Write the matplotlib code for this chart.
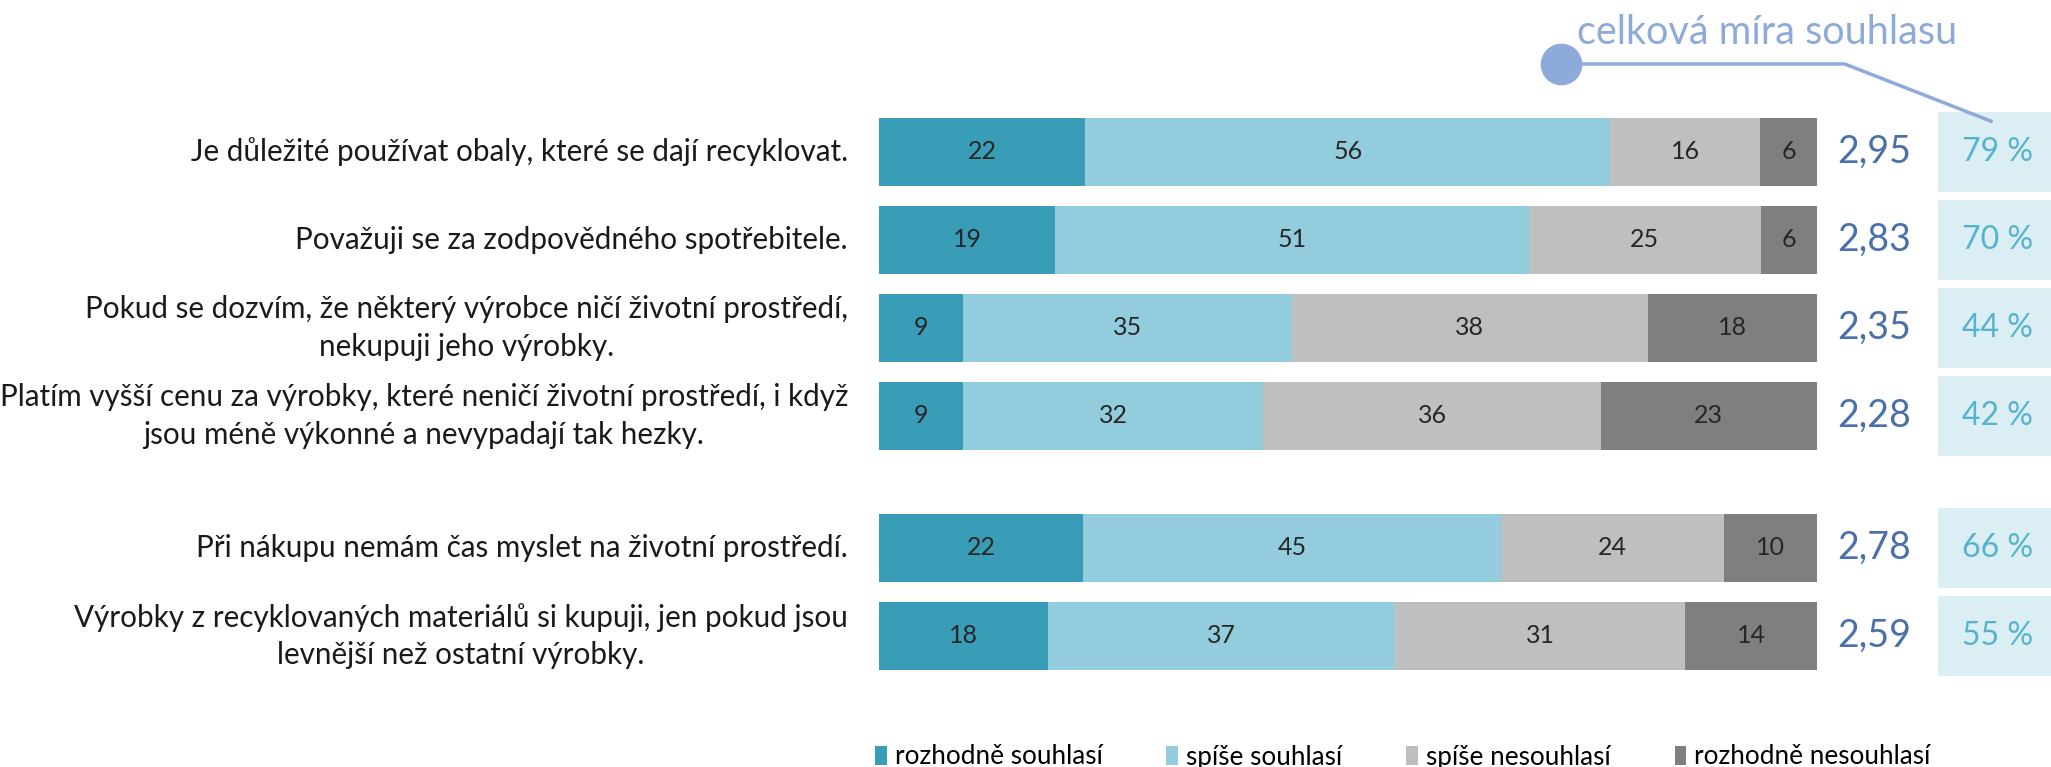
import matplotlib.pyplot as plt
import numpy as np

# Survey statements, top to bottom
statements = [
    "Je důležité používat obaly, které se dají recyklovat.",
    "Považuji se za zodpovědného spotřebitele.",
    "Pokud se dozvím, že některý výrobce ničí životní prostředí,\nnekupuji jeho výrobky.",
    "Platím vyšší cenu za výrobky, které neničí životní prostředí, i když\njsou méně výkonné a nevypadají tak hezky.",
    "Při nákupu nemám čas myslet na životní prostředí.",
    "Výrobky z recyklovaných materiálů si kupuji, jen pokud jsou\nlevnější než ostatní výrobky.",
]
positions = [0, 1, 2, 3, 4.5, 5.5]  # gap before the last two statements

categories = ["rozhodně souhlasí", "spíše souhlasí", "spíše nesouhlasí", "rozhodně nesouhlasí"]
colors = ["#3a9db8", "#93cddd", "#bfbfbf", "#7f7f7f"]

strongly_agree = [22, 19, 9, 9, 22, 18]
agree = [56, 51, 35, 32, 45, 37]
disagree = [16, 25, 38, 36, 24, 31]
strongly_disagree = [6, 6, 18, 23, 10, 14]

means = [2.95, 2.83, 2.35, 2.28, 2.78, 2.59]
total_agree = [79, 70, 44, 42, 66, 55]

plt.rcParams["font.family"] = "Lato"

# Plot setup
plt.figure(figsize=(20.51, 7.67), dpi=100)
plt.axes([879 / 2051, 0, 1 - 879 / 2051, 1])

# 100 % stacked bars
values = np.array([strongly_agree, agree, disagree, strongly_disagree], dtype=float)
shares = values / values.sum(axis=0) * 100
left = np.zeros(len(statements))
for row, share, color, name in zip(values, shares, colors, categories):
    plt.barh(positions, share, left=left, height=0.78, color=color, label=name)
    for y, v, l, s in zip(positions, row, left, share):
        plt.text(l + s / 2, y, f"{int(v)}", ha="center", va="center", fontsize=18, color="#262626")
    left += share

# Mean score and overall agreement
plt.barh(positions, 14, left=113, height=0.91, color="#daeef3")
for y, m, p in zip(positions, means, total_agree):
    plt.text(106.1, y, f"{m:.2f}".replace(".", ","), ha="center", va="center", fontsize=27, color="#4a70aa")
    plt.text(119.3, y, f"{p} %", ha="center", va="center", fontsize=23, color="#57b3cd")

# Statement labels
for y, s in zip(positions, statements):
    plt.text(-3.3, y, s, ha="right", va="center", multialignment="center",
             fontsize=21.3, linespacing=1.42, color="#1a1a1a")

# Callout for the agreement column
plt.plot([72.7, 103.0, 118.6], [-1.0, -1.0, -0.35], color="#8eaadb", lw=2.5, clip_on=False)
plt.plot(72.7, -1.0, "o", ms=29, color="#8eaadb", clip_on=False)
plt.text(74.4, -1.36, "celková míra souhlasu", fontsize=28.5, color="#8eaadb", va="center")

# Styling
plt.xlim(0, 125)
plt.ylim(6.989, -1.727)
plt.axis("off")
plt.figlegend(loc="center left", bbox_to_anchor=(875 / 2051, 10 / 767), ncol=4, frameon=False,
              fontsize=18.8, handlelength=0.45, handleheight=0.7, handletextpad=0.3,
              columnspacing=2.45, borderaxespad=0, borderpad=0)

plt.savefig("out.png", dpi=100)
